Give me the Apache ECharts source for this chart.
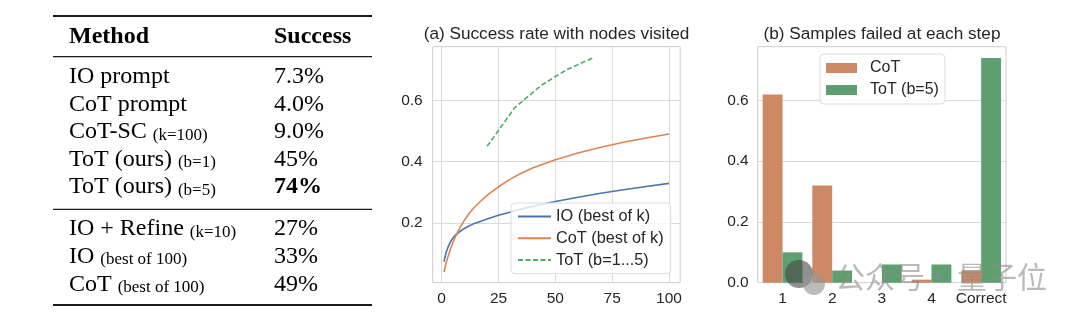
<!DOCTYPE html>
<html><head><meta charset="utf-8">
<script src="https://cdn.jsdelivr.net/npm/echarts@6/dist/echarts.min.js"></script>
<style>html,body{margin:0;padding:0;background:#fff}#c{width:1080px;height:322px}</style>
</head><body><div id="c"></div>
<script>
// ---- table data ----
const tableHeader = ['Method', 'Success'];
const tableMethods = ['IO prompt', 'CoT prompt', 'CoT-SC', 'ToT (ours)', 'ToT (ours)', 'IO + Refine', 'IO', 'CoT'];
const tableNotes = ['', '', '(k=100)', '(b=1)', '(b=5)', '(k=10)', '(best of 100)', '(best of 100)'];
const tableSuccess = ['7.3%', '4.0%', '9.0%', '45%', '74%', '27%', '33%', '49%'];
const tableBold = [false, false, false, false, true, false, false, false];

// ---- (a) success rate vs nodes visited ----
const nodesVisited = [1, 2, 3, 4, 5, 6, 7, 8, 10, 12, 14, 17, 20, 25, 30, 35, 40, 50, 60, 70, 80, 90, 100];
const ioBestOfK  = [0.073, 0.105, 0.125, 0.140, 0.151, 0.160, 0.166, 0.172, 0.182, 0.190, 0.197, 0.205, 0.213, 0.225, 0.235, 0.245, 0.254, 0.270, 0.284, 0.297, 0.308, 0.319, 0.329];
const cotBestOfK = [0.040, 0.070, 0.095, 0.117, 0.137, 0.154, 0.170, 0.184, 0.209, 0.230, 0.248, 0.270, 0.290, 0.318, 0.342, 0.362, 0.379, 0.406, 0.428, 0.447, 0.463, 0.477, 0.490];
const totNodes   = [20, 32, 44, 55, 67];
const totSuccess = [0.45, 0.575, 0.65, 0.70, 0.74];
const xTicksA = [0, 25, 50, 75, 100];
const yTicksA = [0.2, 0.4, 0.6];

// ---- (b) samples failed at each step ----
const failSteps = ['1', '2', '3', '4', 'Correct'];
const cotFailed = [0.62, 0.32, 0.0, 0.01, 0.04];
const totFailed = [0.10, 0.04, 0.06, 0.06, 0.74];
const yTicksB = [0, 0.2, 0.4, 0.6];

const watermarkParts = ['公众号', '·', '量子位'];

const SANS = 'Liberation Sans';
const SERIF = 'Liberation Serif';
const TXT = '#262626';
const GRIDC = '#dadada';

// ---- table graphics ----
const graphics = [];
const tX0 = 53, tX1 = 372, colM = 69, colS = 274;
function rule(y, w) {
  graphics.push({type: 'rect', shape: {x: tX0, y: y - w / 2, width: tX1 - tX0, height: w}, style: {fill: '#1a1a1a'}, silent: true});
}
function row(baseline, left, right, bold, header) {
  const big = 24, small = 17;
  graphics.push({
    type: 'text', x: colM, y: baseline + 4, silent: true,
    style: {
      text: left[1] ? '{a|' + left[0] + ' }{b|' + left[1] + '}' : '{a|' + left[0] + '}',
      verticalAlign: 'bottom',
      rich: {
        a: {fontFamily: SERIF, fontSize: big, lineHeight: big, fontWeight: header ? 'bold' : 'normal', fill: '#000', verticalAlign: 'bottom'},
        b: {fontFamily: SERIF, fontSize: small, lineHeight: 19, fill: '#000', verticalAlign: 'bottom'}
      }
    }
  });
  graphics.push({
    type: 'text', x: colS, y: baseline + 4, silent: true,
    style: {
      text: '{a|' + right + '}', verticalAlign: 'bottom',
      rich: {a: {fontFamily: SERIF, fontSize: big, lineHeight: big, fontWeight: bold ? 'bold' : 'normal', fill: '#000', verticalAlign: 'bottom'}}
    }
  });
}
rule(16, 2);
row(44.3, [tableHeader[0], ''], tableHeader[1], true, true);
rule(56.7, 1.2);
for (let i = 0; i < tableMethods.length; i++) {
  const base = i < 5 ? 85 + i * 27.5 : 236.7 + (i - 5) * 27.8;
  row(base, [tableMethods[i], tableNotes[i]], tableSuccess[i], tableBold[i], false);
  if (i === 4) rule(209.3, 1.2);
}
rule(305, 2);

// ---- watermark ----
graphics.push({type: 'circle', shape: {cx: 799, cy: 274, r: 14}, style: {fill: 'rgba(70,70,70,0.6)'}, silent: true, z: 100});
graphics.push({type: 'circle', shape: {cx: 814, cy: 284, r: 11}, style: {fill: 'rgba(150,150,150,0.65)'}, silent: true, z: 100});
const wmX = [835, 938, 957];
watermarkParts.forEach((t, i) => {
  graphics.push({type: 'text', x: wmX[i], y: 277, silent: true, z: 100,
    style: {text: t, fontFamily: 'Noto Sans CJK SC', fontSize: 30, fill: 'rgba(140,140,140,0.6)',
            verticalAlign: 'middle', align: i === 1 ? 'center' : 'left'}});
});

const chart = echarts.init(document.getElementById('c'), null, {renderer: 'canvas'});
const axisText = {fontFamily: SANS, fontSize: 15.5, color: TXT};

chart.setOption({
  animation: false,
  backgroundColor: '#fff',
  title: [
    {text: '(a) Success rate with nodes visited', left: 556.5, top: 26, padding: 0, textAlign: 'center',
     textStyle: {fontFamily: SANS, fontSize: 17.2, fontWeight: 'normal', color: TXT}},
    {text: '(b) Samples failed at each step', left: 882, top: 26, padding: 0, textAlign: 'center',
     textStyle: {fontFamily: SANS, fontSize: 17.2, fontWeight: 'normal', color: TXT}}
  ],
  legend: [
    {data: ['IO (best of k)', 'CoT (best of k)', 'ToT (b=1...5)'], orient: 'vertical', left: 511, top: 203,
     padding: [5, 7, 5, 6], itemGap: 4.8, itemWidth: 33, itemHeight: 17,
     itemStyle: {opacity: 0},
     backgroundColor: 'rgba(255,255,255,0.8)', borderColor: '#dcdcdc', borderWidth: 1, borderRadius: 4,
     textStyle: {fontFamily: SANS, fontSize: 16.3, color: TXT, lineHeight: 17}},
    {data: ['CoT', 'ToT (b=5)'], orient: 'vertical', left: 820, top: 54, icon: 'rect',
     padding: [6, 6, 6, 6], itemGap: 6, itemWidth: 31, itemHeight: 10,
     backgroundColor: 'rgba(255,255,255,0.8)', borderColor: '#dcdcdc', borderWidth: 1, borderRadius: 4,
     textStyle: {fontFamily: SANS, fontSize: 16, color: TXT, lineHeight: 16, padding: [0, 0, 0, 8]}}
  ],
  grid: [
    {left: 432.7, top: 46.7, width: 247.5, height: 236, show: true, borderColor: '#cccccc', borderWidth: 1, containLabel: false},
    {left: 757.7, top: 46.7, width: 248.3, height: 236, show: true, borderColor: '#cccccc', borderWidth: 1, containLabel: false}
  ],
  xAxis: [
    {type: 'value', gridIndex: 0, min: -3.95, max: 104.95,
     axisLine: {show: false}, axisTick: {show: false, customValues: xTicksA},
     axisLabel: Object.assign({margin: 8, customValues: xTicksA, formatter: v => String(v)}, axisText),
     splitLine: {show: true, lineStyle: {color: GRIDC, width: 1}}},
    {type: 'category', gridIndex: 1, data: failSteps,
     axisLine: {show: false}, axisTick: {show: false},
     axisLabel: Object.assign({margin: 8, interval: 0}, axisText),
     splitLine: {show: false}}
  ],
  yAxis: [
    {type: 'value', gridIndex: 0, min: 0.005, max: 0.775,
     axisLine: {show: false}, axisTick: {show: false, customValues: yTicksA},
     axisLabel: Object.assign({margin: 10, customValues: yTicksA, formatter: v => v.toFixed(1)}, axisText),
     splitLine: {show: true, lineStyle: {color: GRIDC, width: 1}}},
    {type: 'value', gridIndex: 1, min: 0, max: 0.777,
     axisLine: {show: false}, axisTick: {show: false, customValues: yTicksB},
     axisLabel: Object.assign({margin: 9, customValues: yTicksB, formatter: v => v.toFixed(1)}, axisText),
     splitLine: {show: true, lineStyle: {color: GRIDC, width: 1}}}
  ],
  series: [
    {name: 'IO (best of k)', type: 'line', xAxisIndex: 0, yAxisIndex: 0, symbol: 'none', smooth: false,
     data: nodesVisited.map((x, i) => [x, ioBestOfK[i]]),
     itemStyle: {color: '#4C72B0'}, lineStyle: {color: '#4C72B0', width: 1.6}},
    {name: 'CoT (best of k)', type: 'line', xAxisIndex: 0, yAxisIndex: 0, symbol: 'none', smooth: false,
     data: nodesVisited.map((x, i) => [x, cotBestOfK[i]]),
     itemStyle: {color: '#DD8452'}, lineStyle: {color: '#DD8452', width: 1.6}},
    {name: 'ToT (b=1...5)', type: 'line', xAxisIndex: 0, yAxisIndex: 0, symbol: 'none',
     data: totNodes.map((x, i) => [x, totSuccess[i]]),
     itemStyle: {color: '#55A868'}, lineStyle: {color: '#55A868', width: 1.6, type: [5, 2.5]}},
    {name: 'CoT', type: 'bar', xAxisIndex: 1, yAxisIndex: 1, data: cotFailed,
     barGap: '0%', barCategoryGap: '20%', itemStyle: {color: '#CC8963'}},
    {name: 'ToT (b=5)', type: 'bar', xAxisIndex: 1, yAxisIndex: 1, data: totFailed,
     barGap: '0%', barCategoryGap: '20%', itemStyle: {color: '#5F9E6E'}}
  ],
  graphic: graphics
});
</script></body></html>
